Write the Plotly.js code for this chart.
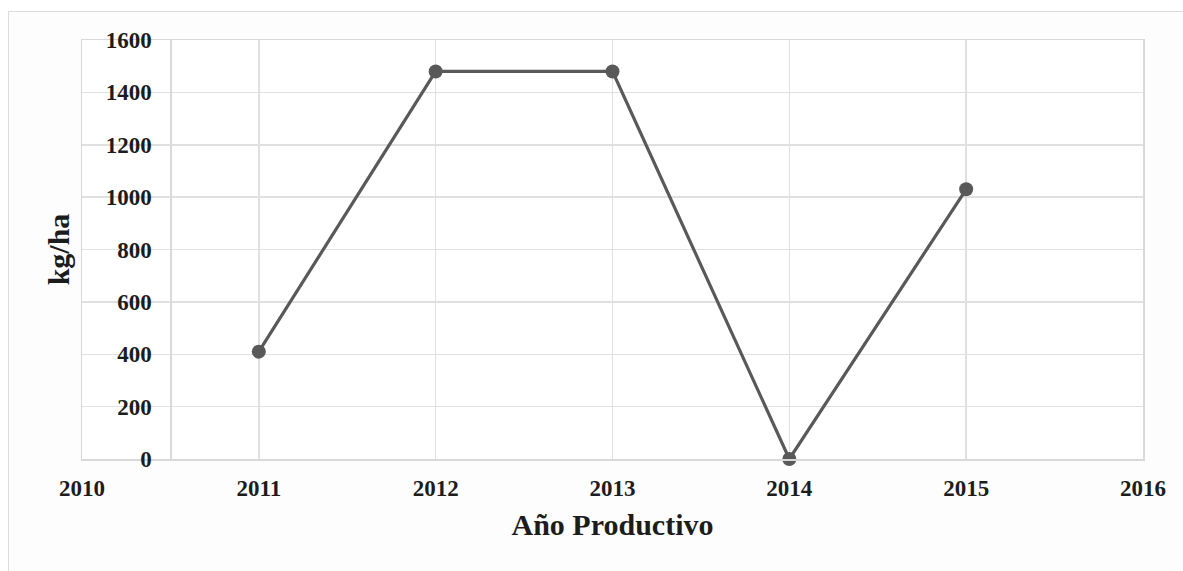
<!DOCTYPE html>
<html>
<head>
<meta charset="utf-8">
<script src="https://cdn.plot.ly/plotly-3.0.1.min.js"></script>
<style>
  html, body { margin: 0; padding: 0; background: #ffffff; }
  #wrap { position: relative; width: 1183px; height: 571px; overflow: hidden; }
  #frame { position: absolute; left: 8px; top: 11px; width: 1175px; height: 560px;
           border-left: 1.5px solid #dcdcdc; border-top: 1.5px solid #dcdcdc; background: #fdfdfd; }
  #chart { position: absolute; left: 0; top: 0; width: 1183px; height: 571px; }
</style>
</head>
<body>
<div id="wrap">
  <div id="frame"></div>
  <div id="chart"></div>
</div>
<script>
const years = [2011, 2012, 2013, 2014, 2015];
const yieldKgHa = [410, 1480, 1480, 0, 1030];
const xTickVals = [2010, 2011, 2012, 2013, 2014, 2015, 2016];
const yTickVals = [0, 200, 400, 600, 800, 1000, 1200, 1400, 1600];
const xTitle = 'Año Productivo';
const yTitle = 'kg/ha';

const fontFam = '"Liberation Serif", "Times New Roman", serif';
const axisFont = {family: fontFam, size: 23, color: '#1c1c1c', weight: 'bold'};
const titleFont = {family: fontFam, size: 30, color: '#1c1c1c', weight: 'bold'};

const trace = {
  x: years, y: yieldKgHa, type: 'scatter', mode: 'lines+markers',
  line: {color: '#595959', width: 3.2},
  marker: {color: '#595959', size: 14},
  cliponaxis: false,
  hoverinfo: 'x+y'
};

// invisible helper trace so the frame axis exists
const frameTrace = {x: [2010], y: [0], yaxis: 'y2', mode: 'markers', marker: {opacity: 0}, hoverinfo: 'skip'};

const layout = {
  width: 1183, height: 571,
  margin: {l: 82, r: 40, t: 40, b: 112},
  paper_bgcolor: 'rgba(0,0,0,0)',
  plot_bgcolor: '#ffffff',
  showlegend: false,
  xaxis: {
    range: [2010, 2016], tickvals: xTickVals, ticktext: xTickVals.map(String),
    showgrid: true, gridcolor: '#e0e0e0', gridwidth: 1.5,
    showline: true, mirror: true, linecolor: '#d9d9d9', linewidth: 1.5,
    zeroline: false, ticks: '', tickfont: axisFont, ticklabelstandoff: 8,
    title: {text: xTitle, font: titleFont, standoff: 14},
    automargin: false, fixedrange: true
  },
  yaxis: {
    range: [0, 1600], tickvals: yTickVals, ticktext: yTickVals.map(String),
    anchor: 'free', position: 0.5 / 6, side: 'left',
    showgrid: true, gridcolor: '#e0e0e0', gridwidth: 1.5,
    showline: true, linecolor: '#d9d9d9', linewidth: 1.5,
    zeroline: false, ticks: '', tickfont: axisFont, ticklabelstandoff: 14,
    title: {text: yTitle, font: titleFont, standoff: 26},
    automargin: false, fixedrange: true
  },
  yaxis2: {
    range: [0, 1600], overlaying: 'y', anchor: 'x', side: 'left',
    showgrid: false, zeroline: false, showticklabels: false, ticks: '',
    showline: true, mirror: true, linecolor: '#d9d9d9', linewidth: 1.5,
    fixedrange: true
  }
};

Plotly.newPlot('chart', [frameTrace, trace], layout, {displayModeBar: false, staticPlot: true});
</script>
</body>
</html>
